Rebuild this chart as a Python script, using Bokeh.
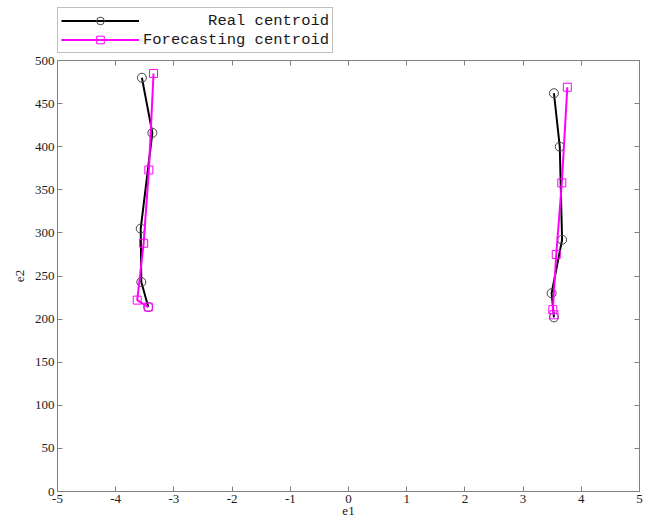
from bokeh.plotting import figure
from bokeh.layouts import column
from bokeh.models import (Range1d, LinearAxis, FixedTicker, Legend, LegendItem,
                          PrintfTickFormatter)
from bokeh.embed import file_html
from bokeh.resources import INLINE

# ---- data ----
real_left_x = [-3.55, -3.37, -3.57, -3.56, -3.44]
real_left_y = [480, 416, 305, 243, 214]
fc_left_x = [-3.35, -3.43, -3.52, -3.63, -3.44]
fc_left_y = [485, 373, 288, 222, 214]

real_right_x = [3.53, 3.63, 3.67, 3.49, 3.53]
real_right_y = [462, 400, 292, 230, 202]
fc_right_x = [3.76, 3.665, 3.57, 3.51, 3.53]
fc_right_y = [469, 358, 275, 211, 205]

x_ticks = list(range(-5, 6))
y_ticks = list(range(0, 501, 50))
x_label = "e1"
y_label = "e2"
label_real = "\u00a0" * 7 + "Real centroid"
label_fc = "Forecasting centroid"

GREY = "#808080"
TXT = "#1a1a1a"
SERIF = "Liberation Serif"
BLACK = "#000000"
MAG = "#ff00ff"

W = 650
LEG_H = 53
MAIN_H = 523 - LEG_H
B_LEFT, B_RIGHT = 57, 11

# ---------------- main plot ----------------
p = figure(width=W, height=MAIN_H, output_backend="svg", toolbar_location=None,
           x_range=Range1d(-5, 5), y_range=Range1d(0, 500),
           min_border_left=B_LEFT, min_border_right=B_RIGHT,
           min_border_top=7, min_border_bottom=32)
p.grid.visible = False
p.outline_line_color = GREY
p.background_fill_color = "white"
p.border_fill_color = "white"

def style_axis(ax, labels=True):
    ax.axis_line_color = GREY
    ax.major_tick_line_color = GREY
    ax.major_tick_in = 5
    ax.major_tick_out = 0
    ax.minor_tick_line_color = None
    if labels:
        ax.formatter = PrintfTickFormatter(format="%d")
        ax.major_label_text_font = SERIF
        ax.major_label_text_font_size = "13px"
        ax.major_label_text_color = TXT
        ax.major_label_standoff = 3
        ax.axis_label_text_font = SERIF
        ax.axis_label_text_font_size = "13px"
        ax.axis_label_text_font_style = "normal"
        ax.axis_label_text_color = TXT
        ax.axis_label_standoff = 1
    else:
        ax.major_label_text_font_size = "1px"
        ax.major_label_text_color = None
        ax.major_label_standoff = 0

p.xaxis.ticker = FixedTicker(ticks=x_ticks)
p.yaxis.ticker = FixedTicker(ticks=y_ticks)
p.xaxis.axis_label = x_label
p.yaxis.axis_label = y_label
style_axis(p.xaxis[0])
style_axis(p.yaxis[0])
p.yaxis[0].axis_label_standoff = 8

top_ax = LinearAxis(ticker=FixedTicker(ticks=x_ticks))
right_ax = LinearAxis(ticker=FixedTicker(ticks=y_ticks))
style_axis(top_ax, labels=False)
style_axis(right_ax, labels=False)
p.add_layout(top_ax, "above")
p.add_layout(right_ax, "right")

real_line = dict(line_color=BLACK, line_width=2)
real_mark = dict(marker="circle", size=9, fill_color=None,
                 line_color="#444444", line_width=1)
fc_line = dict(line_color=MAG, line_width=2)
fc_mark = dict(marker="square", size=8, fill_color=None,
               line_color=MAG, line_width=1)

p.line(real_left_x, real_left_y, **real_line)
p.line(real_right_x, real_right_y, **real_line)
p.scatter(real_left_x, real_left_y, **real_mark)
p.scatter(real_right_x, real_right_y, **real_mark)
p.line(fc_left_x, fc_left_y, **fc_line)
p.line(fc_right_x, fc_right_y, **fc_line)
p.scatter(fc_left_x, fc_left_y, **fc_mark)
p.scatter(fc_right_x, fc_right_y, **fc_mark)

# ---------------- legend strip ----------------
# same series drawn again, but the strip's ranges keep them out of view;
# they only supply the legend's line/marker samples
lg = figure(width=W, height=LEG_H, output_backend="svg", toolbar_location=None,
            x_range=Range1d(10, 11), y_range=Range1d(1000, 1001),
            min_border_left=B_LEFT, min_border_right=B_RIGHT,
            min_border_top=0, min_border_bottom=0)
lg.axis.visible = False
lg.grid.visible = False
lg.outline_line_color = None
lg.background_fill_color = "white"
lg.border_fill_color = "white"

l1 = lg.line(real_left_x, real_left_y, **real_line)
m1 = lg.scatter(real_left_x, real_left_y, marker="circle", size=11,
                fill_color=None, line_color="#444444", line_width=1)
l2 = lg.line(fc_left_x, fc_left_y, **fc_line)
m2 = lg.scatter(fc_left_x, fc_left_y, marker="square", size=11,
                fill_color=None, line_color=MAG, line_width=1)

legend = Legend(items=[
    LegendItem(label=label_real, renderers=[l1, m1]),
    LegendItem(label=label_fc, renderers=[l2, m2]),
])
legend.location = "bottom_left"
legend.orientation = "vertical"
legend.border_line_color = GREY
legend.border_line_width = 1
legend.padding = 3
legend.margin = 0
legend.spacing = 0
legend.glyph_width = 78
legend.glyph_height = 19
legend.label_height = 19
legend.label_standoff = 4
legend.label_text_font = "Liberation Mono"
legend.label_text_font_size = "15.5px"
legend.label_text_color = TXT
legend.background_fill_color = "white"
lg.add_layout(legend, "center")

layout = column(lg, p, spacing=0)
open("out.html", "w").write(file_html(layout, INLINE))
